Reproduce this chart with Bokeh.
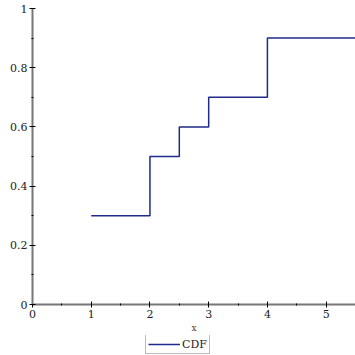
from bokeh.plotting import figure
from bokeh.layouts import column
from bokeh.models import Range1d, Legend, LegendItem, FixedTicker
from bokeh.embed import file_html
from bokeh.resources import INLINE

# CDF step data
x_steps = [1, 2, 2, 2.5, 2.5, 3, 3, 4, 4, 5.5]
y_steps = [0.3, 0.3, 0.5, 0.5, 0.6, 0.6, 0.7, 0.7, 0.9, 0.9]

x_ticks = [0, 1, 2, 3, 4, 5]
x_tick_labels = ["0", "1", "2", "3", "4", "5"]
y_ticks = [0, 0.2, 0.4, 0.6, 0.8, 1]
y_tick_labels = ["0", "0.2", "0.4", "0.6", "0.8", "1"]
series_label = "CDF"

FONT = "DejaVu Serif"
LINE_COLOR = "#1f2a8a"

p = figure(frame_width=323, frame_height=296, output_backend="svg", toolbar_location=None,
           x_range=Range1d(0, 5.5), y_range=Range1d(0, 1),
           min_border_left=32, min_border_right=0, min_border_top=8, min_border_bottom=0)
p.outline_line_color = None
p.xgrid.visible = False
p.ygrid.visible = False
p.background_fill_color = "white"
p.border_fill_color = "white"

p.line(x_steps, y_steps, line_color=LINE_COLOR, line_width=1.5)

for ax, ticks, labels in ((p.xaxis[0], x_ticks, x_tick_labels), (p.yaxis[0], y_ticks, y_tick_labels)):
    minor = []
    for a, b in zip(ticks[:-1], ticks[1:]):
        minor.append((a + b) / 2)
    if ax is p.xaxis[0]:
        minor.append(5.5)
    ax.ticker = FixedTicker(ticks=ticks, minor_ticks=minor)
    ax.major_label_overrides = {t: l for t, l in zip(ticks, labels)}
    ax.axis_line_color = "#777777"
    ax.axis_line_width = 2
    ax.major_tick_line_color = "black"
    ax.minor_tick_line_color = "black"
    ax.major_tick_in = 3
    ax.major_tick_out = 3
    ax.minor_tick_in = 1
    ax.minor_tick_out = 1
    ax.major_label_text_font = FONT
    ax.major_label_text_font_size = "11px"
    ax.major_label_text_color = "#222222"
    ax.major_label_standoff = 2

p.xaxis.axis_label = "x"
p.xaxis.axis_label_text_font = FONT
p.xaxis.axis_label_text_font_style = "normal"
p.xaxis.axis_label_text_font_size = "9px"
p.xaxis.axis_label_standoff = 2

# legend strip below the main plot (its line sits outside the strip's visible range)
p2 = figure(width=355, height=21, output_backend="svg", toolbar_location=None,
            x_axis_type=None, y_axis_type=None,
            x_range=Range1d(-20, -19), y_range=Range1d(-20, -19),
            min_border_left=32, min_border_right=0, min_border_top=0, min_border_bottom=0)
p2.outline_line_color = None
p2.xgrid.visible = False
p2.ygrid.visible = False
r2 = p2.line(x_steps, y_steps, line_color=LINE_COLOR, line_width=1.5)

legend = Legend(items=[LegendItem(label=series_label, renderers=[r2])], location=(113, 2))
legend.label_text_font = FONT
legend.label_text_font_size = "11px"
legend.label_text_color = "#222222"
legend.border_line_color = "#777777"
legend.border_line_width = 1.5
legend.padding = 2
legend.margin = 0
legend.glyph_width = 32
legend.glyph_height = 14
legend.label_standoff = 2
legend.label_height = 14
legend.background_fill_alpha = 1
p2.add_layout(legend, "center")

layout = column(p, p2, spacing=0)
open("out.html", "w").write(file_html(layout, INLINE))
